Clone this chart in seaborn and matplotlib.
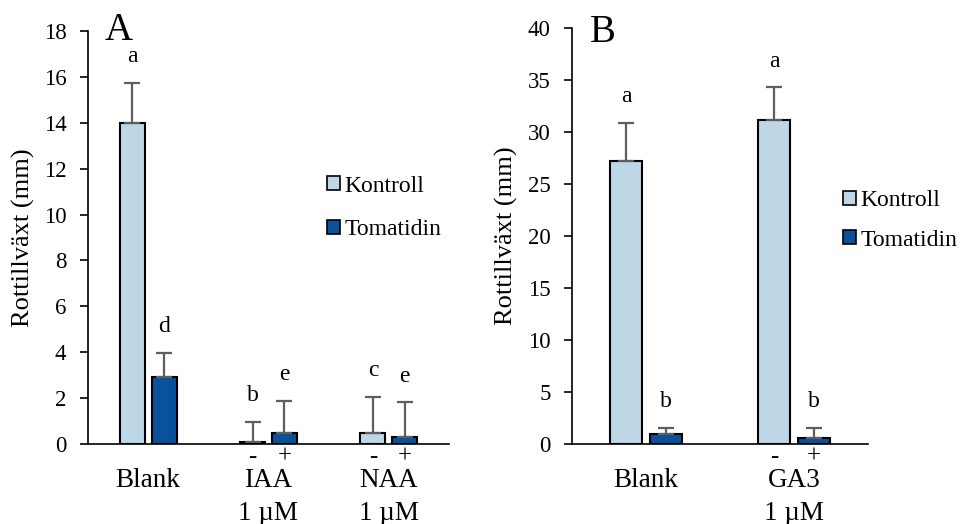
import matplotlib
matplotlib.use("Agg")
import matplotlib.pyplot as plt
from matplotlib.patches import Patch
import seaborn as sns
import pandas as pd

# ---------------- data ----------------
series = ["Kontroll", "Tomatidin"]
colors = ["#BDD7E7", "#0A519C"]

groups_A = ["Blank", "IAA\n1 µM", "NAA\n1 µM"]
kontroll_A = [14.0, 0.10, 0.50]
kontroll_A_err = [1.75, 0.86, 1.55]
tomatidin_A = [2.92, 0.49, 0.30]
tomatidin_A_err = [1.05, 1.40, 1.53]
letters_A_k = ["a", "b", "c"]
letters_A_t = ["d", "e", "e"]
signs_A_k = ["", "-", "-"]
signs_A_t = ["", "+", "+"]
yticks_A = [0, 2, 4, 6, 8, 10, 12, 14, 16, 18]

groups_B = ["Blank", "GA3\n1 µM"]
kontroll_B = [27.2, 31.15]
kontroll_B_err = [3.7, 3.15]
tomatidin_B = [0.96, 0.61]
tomatidin_B_err = [0.58, 0.93]
letters_B_k = ["a", "a"]
letters_B_t = ["b", "b"]
signs_B_k = ["", "-"]
signs_B_t = ["", "+"]
yticks_B = [0, 5, 10, 15, 20, 25, 30, 35, 40]

ylabel = "Rottillväxt (mm)"

# ---------------- style ----------------
sns.set_style("ticks")
plt.rcParams["font.family"] = ["Liberation Serif", "DejaVu Serif"]
plt.rcParams.update({
    "text.color": "black", "axes.labelcolor": "black",
    "xtick.color": "black", "ytick.color": "black",
    "axes.edgecolor": "black",
})

fig = plt.figure(figsize=(9.64, 5.24), dpi=100)
W, H = 964, 524


def panel(rect_px, groups, k, kerr, t, terr, lk, lt, sk, st, yticks, label,
          width, gap, legend_anchor, labelspacing, ylabel_x, label_pos):
    l, r, top, bot = rect_px
    ax = fig.add_axes([l / W, 1 - bot / H, (r - l) / W, (bot - top) / H])
    df = pd.DataFrame({
        "group": groups * 2,
        "series": [series[0]] * len(groups) + [series[1]] * len(groups),
        "value": k + t,
    })
    sns.barplot(data=df, x="group", y="value", hue="series", order=groups,
                hue_order=series, palette=colors, saturation=1,
                width=width, gap=gap, edgecolor="black", linewidth=1.5,
                errorbar=None, legend=False, ax=ax)
    for cont, vals, errs, letters, signs in zip(
            ax.containers, [k, t], [kerr, terr], [lk, lt], [sk, st]):
        xs = [b.get_x() + b.get_width() / 2 for b in cont]
        ax.errorbar(xs, vals, yerr=[[0] * len(vals), errs], fmt="none",
                    ecolor="#5E5E5E", elinewidth=1.6, capsize=6,
                    capthick=1.6, zorder=1)
        for x, v, e, let, s in zip(xs, vals, errs, letters, signs):
            ax.annotate(let, xy=(x, v + e), xytext=(0, 26),
                        textcoords="offset pixels", ha="center",
                        va="center", fontsize=17)
            if s:
                ax.annotate(s, xy=(x, 0), xycoords=("data", "axes fraction"),
                            xytext=(0, -13), textcoords="offset pixels",
                            ha="center", va="center", fontsize=18)
    ax.set_ylim(yticks[0], yticks[-1])
    ax.set_xlim(-0.5, len(groups) - 0.5)
    ax.set_yticks(yticks)
    ax.set_xlabel("")
    ax.set_ylabel(ylabel, fontsize=19)
    ax.yaxis.set_label_coords(ylabel_x, 0.5)
    ax.tick_params(axis="y", length=6, width=1.2, pad=9.5, labelsize=16.5,
                   direction="out")
    ax.tick_params(axis="x", length=0, pad=17, labelsize=19.5)
    for lab in ax.get_xticklabels():
        lab.set_linespacing(1.42)
    sns.despine(ax=ax)
    for sp in ["left", "bottom"]:
        ax.spines[sp].set_linewidth(1.2)
    handles = [Patch(facecolor=c, edgecolor="black", linewidth=1.2)
               for c in colors]
    ax.legend(handles, series, loc="upper left", bbox_to_anchor=legend_anchor,
              frameon=False, handlelength=0.55, handleheight=0.55,
              handletextpad=0.2, labelspacing=labelspacing, borderpad=0,
              borderaxespad=0, fontsize=17)
    ax.text(label_pos[0], label_pos[1], label, transform=ax.transAxes,
            fontsize=28, ha="left", va="baseline")
    return ax


panel((88, 449, 31, 444), groups_A, kontroll_A, kontroll_A_err,
      tomatidin_A, tomatidin_A_err, letters_A_k, letters_A_t,
      signs_A_k, signs_A_t, yticks_A, "A", 0.53, 0.21,
      (0.662, 0.65), 0.95, -0.147, (0.045, 0.978))

panel((572, 868, 28, 444), groups_B, kontroll_B, kontroll_B_err,
      tomatidin_B, tomatidin_B_err, letters_B_k, letters_B_t,
      signs_B_k, signs_B_t, yticks_B, "B", 0.54, 0.18,
      (0.915, 0.61), 0.78, -0.182, (0.06, 0.966))

fig.savefig("out.png", dpi=100)
